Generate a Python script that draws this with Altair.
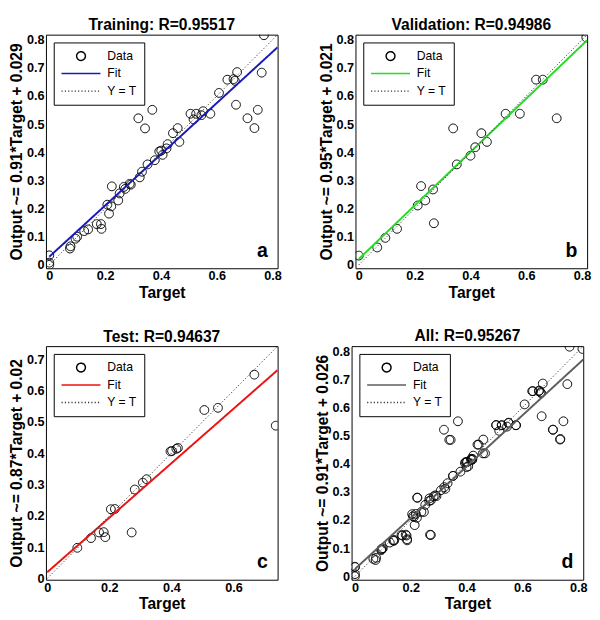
import altair as alt
import pandas as pd

FONT = "Liberation Sans"

# ---------------- data ----------------
panel_titles = ["Training: R=0.95517", "Validation: R=0.94986",
                "Test: R=0.94637", "All: R=0.95267"]
y_titles = ["Output ~= 0.91*Target + 0.029", "Output ~= 0.95*Target + 0.021",
            "Output ~= 0.87*Target + 0.02", "Output ~= 0.91*Target + 0.026"]
panel_letters = ["a", "b", "c", "d"]
fit_slope = [0.91, 0.95, 0.87, 0.91]
fit_intercept = [0.029, 0.021, 0.02, 0.026]
fit_colors = ["#1a1ab8", "#22dd22", "#ee1111", "#5e5e5e"]
series_names = ["Data", "Fit", "Y = T"]

axis_domains = [[-0.012, 0.818], [-0.012, 0.818], [-0.004, 0.742], [-0.012, 0.818]]
x_ticks_main = [0, 0.2, 0.4, 0.6, 0.8]
y_ticks_main = [0, 0.1, 0.2, 0.3, 0.4, 0.5, 0.6, 0.7, 0.8]
x_ticks_test = [0, 0.2, 0.4, 0.6]
y_ticks_test = [0, 0.1, 0.2, 0.3, 0.4, 0.5, 0.6, 0.7]

train_target = [0.000, 0.000, 0.000, 0.074, 0.076, 0.094, 0.100, 0.125, 0.139,
                0.170, 0.185, 0.187, 0.208, 0.214, 0.222, 0.224, 0.247, 0.252,
                0.267, 0.272, 0.288, 0.292, 0.324, 0.332, 0.319, 0.369, 0.343,
                0.352, 0.378, 0.394, 0.401, 0.406, 0.420, 0.424, 0.443, 0.460,
                0.466, 0.506, 0.517, 0.526, 0.545, 0.551, 0.577, 0.608, 0.638,
                0.665, 0.673, 0.660, 0.669, 0.710, 0.747, 0.735, 0.761, 0.769]
train_output = [0.034, 0.008, 0.000, 0.058, 0.066, 0.093, 0.100, 0.120, 0.126,
                0.145, 0.145, 0.128, 0.214, 0.182, 0.208, 0.279, 0.229, 0.254,
                0.277, 0.270, 0.288, 0.285, 0.311, 0.331, 0.521, 0.551, 0.485,
                0.357, 0.372, 0.403, 0.406, 0.391, 0.414, 0.429, 0.468, 0.486,
                0.437, 0.537, 0.517, 0.537, 0.532, 0.546, 0.537, 0.611, 0.658,
                0.654, 0.685, 0.660, 0.569, 0.521, 0.551, 0.486, 0.683, 0.816]

valid_target = [0.000, 0.066, 0.095, 0.137, 0.211, 0.223, 0.238, 0.266, 0.269,
                0.338, 0.351, 0.400, 0.417, 0.439, 0.459, 0.526, 0.577, 0.635,
                0.659, 0.709, 0.815]
valid_output = [0.033, 0.062, 0.096, 0.128, 0.211, 0.280, 0.229, 0.268, 0.148,
                0.485, 0.357, 0.388, 0.418, 0.468, 0.437, 0.537, 0.537, 0.658,
                0.658, 0.521, 0.808]

test_target = [0.097, 0.141, 0.167, 0.182, 0.187, 0.272, 0.205, 0.218, 0.282,
               0.308, 0.320, 0.397, 0.402, 0.421, 0.416, 0.506, 0.550, 0.667,
               0.736]
test_output = [0.098, 0.129, 0.147, 0.148, 0.132, 0.147, 0.221, 0.222, 0.284,
               0.306, 0.317, 0.406, 0.407, 0.417, 0.414, 0.538, 0.545, 0.651,
               0.488]

all_target = train_target + valid_target + test_target
all_output = train_output + valid_output + test_output

panel_targets = [train_target, valid_target, test_target, all_target]
panel_outputs = [train_output, valid_output, test_output, all_output]
panel_xticks = [x_ticks_main, x_ticks_main, x_ticks_test, x_ticks_main]
panel_yticks = [y_ticks_main, y_ticks_main, y_ticks_test, y_ticks_main]

# ---------------- styling ----------------
W, H = 238, 240
CIRCLE = "M-0.225,0A0.225,0.225,0,1,0,0.225,0A0.225,0.225,0,1,0,-0.225,0Z"
LINE = "M-1,0L1,0"


def panel(i):
    dom = axis_domains[i]
    xmax = dom[1]
    pts = pd.DataFrame({"target": panel_targets[i], "output": panel_outputs[i],
                        "series": "Data"})
    m, b = fit_slope[i], fit_intercept[i]
    lines = pd.DataFrame({
        "target": [0.0, xmax, 0.0, xmax],
        "output": [b, m * xmax + b, 0.0, xmax],
        "series": ["Fit", "Fit", "Y = T", "Y = T"],
    })

    leg = alt.Legend(title=None, orient="none", legendX=8, legendY=8,
                     padding=7, strokeColor="black", fillColor="white",
                     cornerRadius=0, labelFont=FONT, labelFontSize=12.5,
                     labelFontWeight="normal", labelColor="black",
                     labelOffset=6, symbolSize=1600, rowPadding=4,
                     clipHeight=14,
                     symbolStrokeWidth=1.5, symbolFillColor="transparent")
    color = alt.Color("series:N", legend=leg,
                      scale=alt.Scale(domain=series_names,
                                      range=["black", fit_colors[i], "#333333"]))
    shape = alt.Shape("series:N", legend=leg,
                      scale=alt.Scale(domain=series_names,
                                      range=[CIRCLE, LINE, LINE]))
    dash = alt.StrokeDash("series:N", legend=leg,
                          scale=alt.Scale(domain=series_names,
                                          range=[[1, 0], [1, 0], [1.2, 2.2]]))

    xenc = alt.X("target:Q", title="Target",
                 scale=alt.Scale(domain=dom, nice=False, zero=False),
                 axis=alt.Axis(values=panel_xticks[i], format="~g"))
    yenc = alt.Y("output:Q", title=y_titles[i],
                 scale=alt.Scale(domain=dom, nice=False, zero=False),
                 axis=alt.Axis(values=panel_yticks[i], format="~g"))

    p = alt.Chart(pts).mark_point(filled=False, size=1600, strokeWidth=1,
                                  clip=True, opacity=1).encode(
        x=xenc, y=yenc, color=color, shape=shape, strokeDash=dash)
    ln = alt.Chart(lines).mark_line(clip=True).encode(
        x=xenc, y=yenc, color=color, strokeDash=dash,
        strokeWidth=alt.condition(alt.datum.series == "Fit",
                                  alt.value(2), alt.value(1)))
    lab = alt.Chart(pd.DataFrame({"lab": [panel_letters[i]]})).mark_text(
        align="right", baseline="alphabetic", fontSize=20, fontWeight="bold",
        font=FONT, color="black").encode(
        text="lab:N", x=alt.value(W - 10), y=alt.value(H - 12))

    return alt.layer(p, ln, lab).properties(
        width=W, height=H,
        title=alt.TitleParams(panel_titles[i]))


def res(c):
    return c.resolve_scale(color="independent", shape="independent",
                           strokeDash="independent", x="independent",
                           y="independent").resolve_legend(
        color="independent", shape="independent", strokeDash="independent")


row1 = res(alt.hconcat(panel(0), panel(1), spacing=36))
row2 = res(alt.hconcat(panel(2), panel(3), spacing=36))
chart = res(alt.vconcat(row1, row2, spacing=27)).properties(
    padding=0, background="white"
).configure_view(stroke="black", strokeWidth=1).configure_axis(
    grid=False, domain=False, ticks=False, labelFlush=False,
    labelFont=FONT, labelFontSize=13, labelFontWeight="bold",
    labelColor="black", labelPadding=2,
    titleFont=FONT, titleFontSize=16, titleFontWeight="bold",
    titleColor="black", titlePadding=2
).configure_title(font=FONT, fontSize=16, fontWeight="bold", color="black",
                  offset=1, anchor="middle", frame="group")

chart.save("out.html", embed_options={"renderer": "svg", "actions": False})
